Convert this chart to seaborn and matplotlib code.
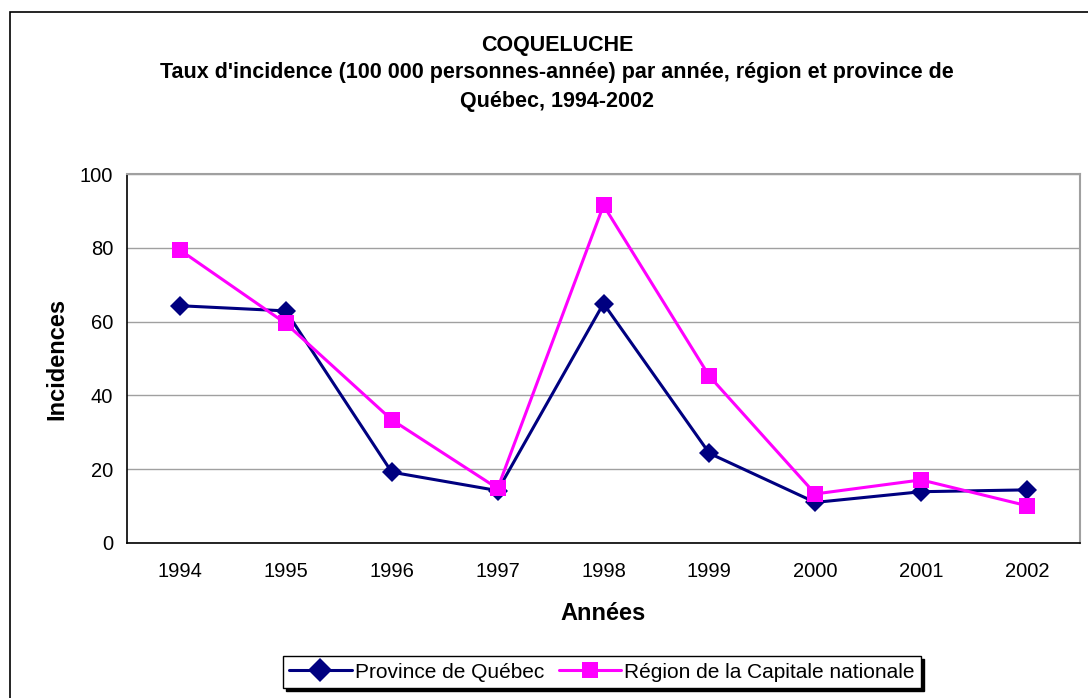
import numpy as np
import pandas as pd
import matplotlib
matplotlib.use("Agg")
import matplotlib.pyplot as plt
import matplotlib.patches as mpatches
import seaborn as sns

# data
years = [1994, 1995, 1996, 1997, 1998, 1999, 2000, 2001, 2002]
province = [64.3, 62.9, 19.2, 14.2, 64.9, 24.3, 11.0, 13.9, 14.4]
capitale = [79.4, 59.5, 33.4, 14.8, 91.5, 45.2, 13.3, 17.1, 10.1]
series_names = ["Province de Québec", "Région de la Capitale nationale"]

df = pd.DataFrame({
    "Année": years * 2,
    "Incidence": province + capitale,
    "Série": [series_names[0]] * len(years) + [series_names[1]] * len(years),
})

sns.set_style("white")
plt.rcParams["font.family"] = ["Liberation Sans", "DejaVu Sans"]
plt.rcParams["text.color"] = "black"
plt.rcParams["xtick.color"] = "black"
plt.rcParams["ytick.color"] = "black"
plt.rcParams["axes.labelcolor"] = "black"

fig = plt.figure(figsize=(10.88, 6.98), dpi=100)
ax = fig.add_axes([127 / 1088, 1 - 543 / 698, (1080 - 127) / 1088, (543 - 174) / 698])

palette = {series_names[0]: "#000080", series_names[1]: "#ff00ff"}
sns.lineplot(data=df, x="Année", y="Incidence", hue="Série", style="Série",
             markers={series_names[0]: "D", series_names[1]: "s"},
             dashes=False, palette=palette, linewidth=2.2,
             markersize=12, markeredgewidth=0, ax=ax, legend=True)
# diamond a little smaller than the square
ax.lines[0].set_markersize(10)

ax.set_xlim(years[0] - 0.5, years[-1] + 0.5)
ax.set_ylim(0, 100)
ax.set_yticks([0, 20, 40, 60, 80, 100])
ax.set_xticks(years)
ax.set_xticks(np.arange(years[0] - 0.5, years[-1] + 1, 1), minor=True)
ax.tick_params(axis="x", which="major", length=0, pad=14, labelsize=14.5)
ax.tick_params(axis="x", which="minor", length=5, width=1, direction="out")
ax.tick_params(axis="y", length=6, width=1, direction="out", labelsize=14.5, pad=4)
ax.yaxis.grid(True, color="#a0a0a0", linewidth=1)
ax.set_axisbelow(True)

for side in ["left", "bottom"]:
    ax.spines[side].set_color("black")
    ax.spines[side].set_linewidth(1.2)
for side in ["top", "right"]:
    ax.spines[side].set_visible(True)
    ax.spines[side].set_color("#a0a0a0")
    ax.spines[side].set_linewidth(1.5)

ax.set_xlabel("Années", fontsize=17, fontweight="bold", labelpad=15)
ax.set_ylabel("Incidences", fontsize=17, fontweight="bold", labelpad=8)

handles, labels = ax.get_legend_handles_labels()
ax.get_legend().remove()
for h in handles:
    h.set_linewidth(2.2)
leg = fig.legend(handles, labels, loc="center", bbox_to_anchor=(602 / 1088, 1 - 672 / 698),
                 ncol=2, frameon=True, fancybox=False, shadow={"color": "black", "alpha": 1},
                 fontsize=15, handlelength=3.0, handletextpad=0.15, columnspacing=0.7,
                 borderpad=0.3, borderaxespad=0, edgecolor="black")
leg.get_frame().set_linewidth(1)

fig.text(557 / 1088, 1 - 45 / 698, "COQUELUCHE", ha="center", va="center",
         fontsize=15.5, fontweight="bold")
fig.text(557 / 1088, 1 - 87 / 698,
         "Taux d'incidence (100 000 personnes-année) par année, région et province de\nQuébec, 1994-2002",
         ha="center", va="center", fontsize=15.5, fontweight="bold", linespacing=1.5)

# outer chart-area border
fig.patches.append(mpatches.Rectangle((10 / 1088, -0.1), 1.2, 1.1 - 12 / 698,
                                      transform=fig.transFigure, fill=False,
                                      edgecolor="black", linewidth=1.2))

fig.savefig("out.png", dpi=100)
